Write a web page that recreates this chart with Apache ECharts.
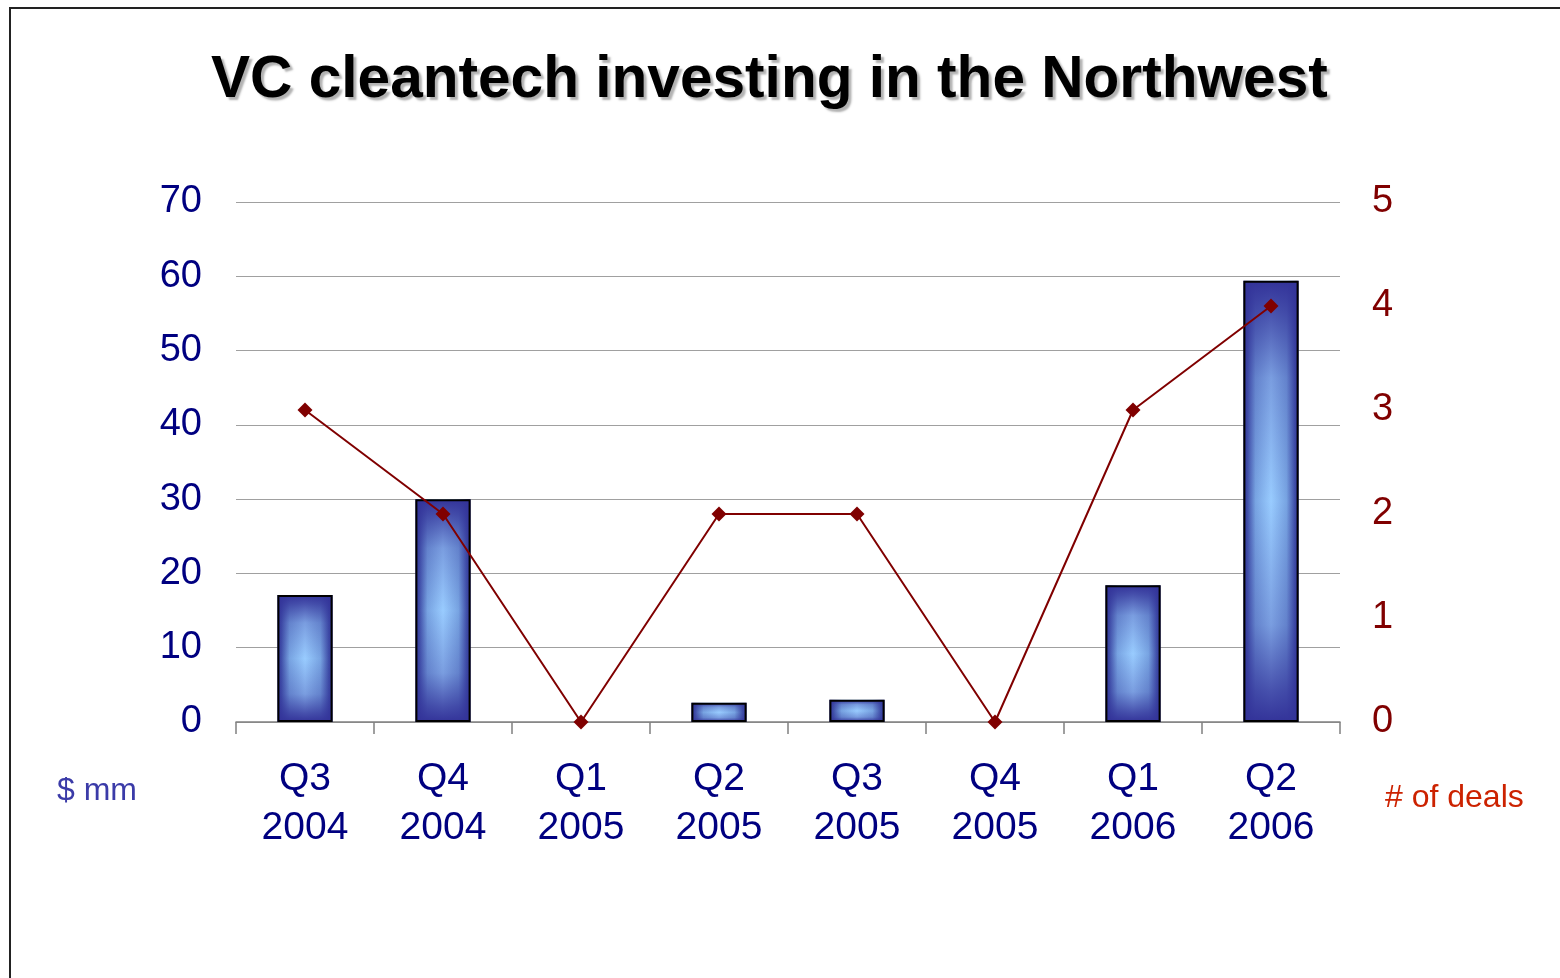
<!DOCTYPE html>
<html>
<head>
<meta charset="utf-8">
<script src="https://cdn.jsdelivr.net/npm/echarts@6/dist/echarts.min.js"></script>
<style>
html,body{margin:0;padding:0;background:#fff;}
#chart{width:1560px;height:978px;}
</style>
</head>
<body>
<div id="chart"></div>
<script>
const categories = ['Q3\n2004','Q4\n2004','Q1\n2005','Q2\n2005','Q3\n2005','Q4\n2005','Q1\n2006','Q2\n2006'];
const investment = [17.1, 30.0, 0, 2.6, 3.0, 0, 18.4, 59.4];
const deals = [3, 2, 0, 2, 2, 0, 3, 4];
const leftTicks = [0, 10, 20, 30, 40, 50, 60, 70];
const rightTicks = [0, 1, 2, 3, 4, 5];

const chart = echarts.init(document.getElementById('chart'));
const font = 'Liberation Sans, Arial, sans-serif';
const hGradient = {
  type: 'linear', x: 0, y: 0, x2: 1, y2: 0,
  colorStops: [
    {offset: 0, color: '#333399'},
    {offset: 0.07, color: '#3f4ea8'},
    {offset: 0.22, color: '#78a4e2'},
    {offset: 0.5, color: '#99ccff'},
    {offset: 0.78, color: '#78a4e2'},
    {offset: 0.93, color: '#3f4ea8'},
    {offset: 1, color: '#333399'}
  ]
};
const vGradient = {
  type: 'linear', x: 0, y: 0, x2: 0, y2: 1,
  colorStops: [
    {offset: 0, color: 'rgba(51,51,153,1)'},
    {offset: 0.07, color: 'rgba(51,51,153,0.8)'},
    {offset: 0.22, color: 'rgba(51,51,153,0.3)'},
    {offset: 0.5, color: 'rgba(51,51,153,0)'},
    {offset: 0.78, color: 'rgba(51,51,153,0.3)'},
    {offset: 0.93, color: 'rgba(51,51,153,0.8)'},
    {offset: 1, color: 'rgba(51,51,153,1)'}
  ]
};
const overlayData = investment.map(v => v === 0 ? {value: v, itemStyle: {borderWidth: 0}} : v);
chart.setOption({
  animation: false,
  backgroundColor: '#fff',
  title: {
    text: 'VC cleantech investing in the Northwest',
    left: 206,
    top: 46,
    textStyle: {
      fontFamily: font, fontWeight: 'bold', fontSize: 58.6, color: '#000',
      textShadowColor: 'rgba(0,0,0,0.3)', textShadowOffsetX: 3, textShadowOffsetY: 3, textShadowBlur: 2
    }
  },
  graphic: [
    {type: 'rect', shape: {x: 10, y: 8, width: 1600, height: 1100}, style: {fill: 'none', stroke: '#222', lineWidth: 2}, silent: true},
    {type: 'text', left: 57, top: 775, style: {text: '$ mm', font: '32px ' + font, fill: '#3b3ba8'}},
    {type: 'text', left: 1385, top: 782, style: {text: '# of deals', font: '32px ' + font, fill: '#cc2200'}}
  ],
  grid: {left: 236, right: 220, top: 202, bottom: 256, containLabel: false},
  xAxis: {
    type: 'category',
    data: categories,
    boundaryGap: true,
    axisLine: {show: true, lineStyle: {color: '#808080', width: 1.5}},
    axisTick: {show: true, inside: false, length: 12, lineStyle: {color: '#808080', width: 1.5}},
    axisLabel: {fontFamily: font, fontSize: 39, color: '#000080', lineHeight: 49, margin: 33, interval: 0}
  },
  yAxis: [
    {
      type: 'value', min: 0, max: 70, interval: 10,
      axisLine: {show: false}, axisTick: {show: false},
      splitLine: {show: true, lineStyle: {color: '#a0a0a0', width: 1}},
      axisLabel: {fontFamily: font, fontSize: 38, color: '#000080', margin: 34,
        formatter: v => leftTicks.includes(v) ? String(v) : ''}
    },
    {
      type: 'value', min: 0, max: 5, interval: 1,
      axisLine: {show: false}, axisTick: {show: false},
      splitLine: {show: false},
      axisLabel: {fontFamily: font, fontSize: 38, color: '#800000', margin: 32,
        formatter: v => rightTicks.includes(v) ? String(v) : ''}
    }
  ],
  series: [
    {
      type: 'bar', data: investment, yAxisIndex: 0, barWidth: '40%', z: 2,
      itemStyle: {color: hGradient, borderWidth: 0}
    },
    {
      type: 'bar', data: overlayData, yAxisIndex: 0, barWidth: '40%', barGap: '-100%', z: 3, silent: true,
      itemStyle: {color: vGradient, borderColor: '#000', borderWidth: 2}
    },
    {
      type: 'line', data: deals, yAxisIndex: 1, z: 5,
      symbol: 'diamond', symbolSize: 15,
      lineStyle: {color: '#800000', width: 2},
      itemStyle: {color: '#800000'}
    }
  ]
});
</script>
</body>
</html>
